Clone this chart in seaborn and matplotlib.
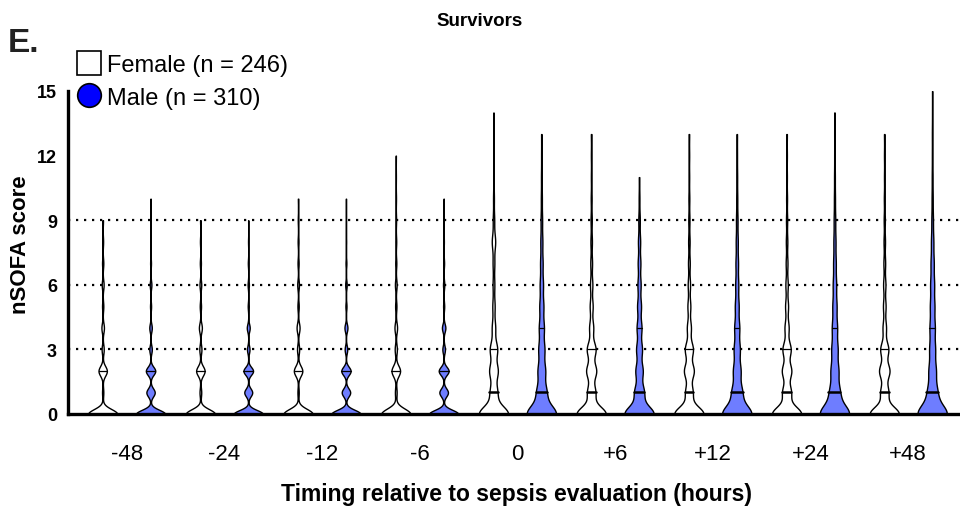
import numpy as np
import pandas as pd
import matplotlib
matplotlib.use("Agg")
import matplotlib.pyplot as plt
from matplotlib.lines import Line2D
import seaborn as sns

# Timepoints relative to sepsis evaluation (hours)
times = ["-48", "-24", "-12", "-6", "0", "+6", "+12", "+24", "+48"]
sexes = ["Female", "Male"]
legend_labels = ["Female (n = 246)", "Male (n = 310)"]

# Number of infants at each nSOFA score (list index = score 0, 1, 2, ...)
female_counts = [
    [140, 6, 40, 10, 12, 6, 9, 6, 4, 3],                      # -48
    [138, 8, 40, 10, 14, 6, 8, 5, 4, 3],                      # -24
    [138, 6, 40, 10, 14, 6, 8, 5, 4, 3, 2],                   # -12
    [136, 8, 40, 10, 12, 6, 8, 5, 4, 3, 2, 1, 1],             # -6
    [104, 26, 30, 26, 12, 8, 6, 6, 12, 5, 3, 2, 2, 1, 1],     # 0
    [100, 28, 34, 30, 14, 10, 8, 6, 5, 4, 3, 2, 2, 2],        # +6
    [102, 26, 34, 28, 14, 10, 8, 6, 5, 4, 3, 2, 2, 2],        # +12
    [100, 30, 32, 28, 14, 10, 8, 6, 5, 4, 3, 2, 2, 2],        # +24
    [102, 28, 36, 28, 12, 9, 8, 6, 5, 4, 3, 2, 2, 2],         # +48
]
male_counts = [
    [140, 40, 45, 12, 12, 5, 8, 4, 2, 1, 1],                  # -48
    [140, 38, 46, 12, 14, 5, 6, 4, 2, 1],                     # -24
    [138, 40, 44, 12, 14, 5, 7, 4, 2, 1, 1],                  # -12
    [136, 40, 46, 12, 16, 5, 6, 4, 2, 1, 1],                  # -6
    [120, 40, 30, 24, 20, 16, 13, 10, 8, 6, 4, 3, 2, 2],      # 0
    [122, 40, 30, 24, 20, 16, 13, 11, 9, 6, 3, 2],            # +6
    [120, 42, 30, 24, 20, 15, 12, 10, 8, 6, 4, 3, 2, 2],      # +12
    [118, 40, 30, 24, 20, 16, 13, 10, 8, 6, 4, 3, 2, 2, 2],   # +24
    [118, 38, 28, 22, 20, 17, 15, 12, 9, 6, 4, 3, 2, 2, 1, 1],  # +48
]

# Long-format table: one row per infant observation
rows = []
for t, fc, mc in zip(times, female_counts, male_counts):
    for sex, counts in (("Female", fc), ("Male", mc)):
        scores = np.repeat(np.arange(len(counts)), counts)
        rows.append(pd.DataFrame({"time": t, "sex": sex, "score": scores}))
df = pd.concat(rows, ignore_index=True)

sns.set_style("white")
plt.rcParams["font.family"] = ["Liberation Sans", "DejaVu Sans"]
plt.rcParams["text.color"] = "black"
plt.rcParams["axes.labelcolor"] = "black"

palette = {"Female": "#FFFFFF", "Male": "#6E7DFF"}

fig = plt.figure(figsize=(9.6, 5.1), dpi=100)
ax = fig.add_axes([68 / 960, 1 - 415 / 510, (960 - 68) / 960, (415 - 92) / 510])

common = dict(
    x="time", y="score", hue="sex", order=times, hue_order=sexes,
    palette=palette, saturation=1, width=0.98, gap=0.39, dodge=True,
    cut=0, density_norm="width", common_norm=False, inner="quart",
    linecolor="black", linewidth=1.0, gridsize=400, legend=False, ax=ax,
)

pre = df["time"].isin(times[:4])
# pre-evaluation scores cluster on integers -> narrow kernel
sns.violinplot(data=df[pre], bw_method=0.10, **common)
sns.violinplot(data=df[~pre & (df["sex"] == "Female")], bw_method=0.12, **common)
sns.violinplot(data=df[~pre & (df["sex"] == "Male")], bw_method=0.135, **common)

# quartile lines solid and thin, median line heavier
for ln in ax.lines:
    ln.set_linestyle("-")
    ln.set_linewidth(0.9)
for ln in ax.lines[1::3]:
    ln.set_linewidth(1.8)

# dotted reference lines
for yv in (3, 6, 9):
    ax.axhline(yv, color="black", linestyle=(0, (1, 2.6)), linewidth=1.6, zorder=0.5)

ax.set_xlim(-0.6, 8.53)
ax.set_ylim(0, 15)
ax.set_yticks([0, 3, 6, 9, 12, 15])
for s in ("top", "right"):
    ax.spines[s].set_visible(False)
for s in ("left", "bottom"):
    ax.spines[s].set_linewidth(2.4)
    ax.spines[s].set_color("black")
ax.tick_params(axis="y", length=5, width=2.2, pad=3, labelsize=13, colors="black")
ax.tick_params(axis="x", length=0, pad=21, labelsize=16, colors="black")
for lab in ax.get_yticklabels():
    lab.set_fontweight("bold")

ax.set_xlabel("Timing relative to sepsis evaluation (hours)", fontsize=16.5,
              fontweight="bold")
ax.xaxis.set_label_coords(0.503, -0.21)
ax.set_ylabel("nSOFA score", fontsize=16, fontweight="bold")
ax.yaxis.set_label_coords(-0.041, 0.526)

fig.text(0.5, 1 - 26 / 510, "Survivors", ha="center", va="baseline",
         fontsize=13.5, fontweight="bold")
fig.text(8 / 960, 1 - 52 / 510, "E.", ha="left", va="baseline",
         fontsize=24, fontweight="bold", color="#222222")

handles = [
    Line2D([], [], linestyle="none", marker="s", markersize=17,
           markerfacecolor="white", markeredgecolor="black", markeredgewidth=1.2),
    Line2D([], [], linestyle="none", marker="o", markersize=17,
           markerfacecolor="#0000FF", markeredgecolor="black", markeredgewidth=1.2),
]
fig.legend(handles, legend_labels, loc="upper left",
           bbox_to_anchor=(77 / 960, 1 - 55 / 510), frameon=False,
           fontsize=17, handlelength=1.0, handletextpad=0.25,
           labelspacing=0.45, borderpad=0, borderaxespad=0)

fig.savefig("out.png", dpi=100)
